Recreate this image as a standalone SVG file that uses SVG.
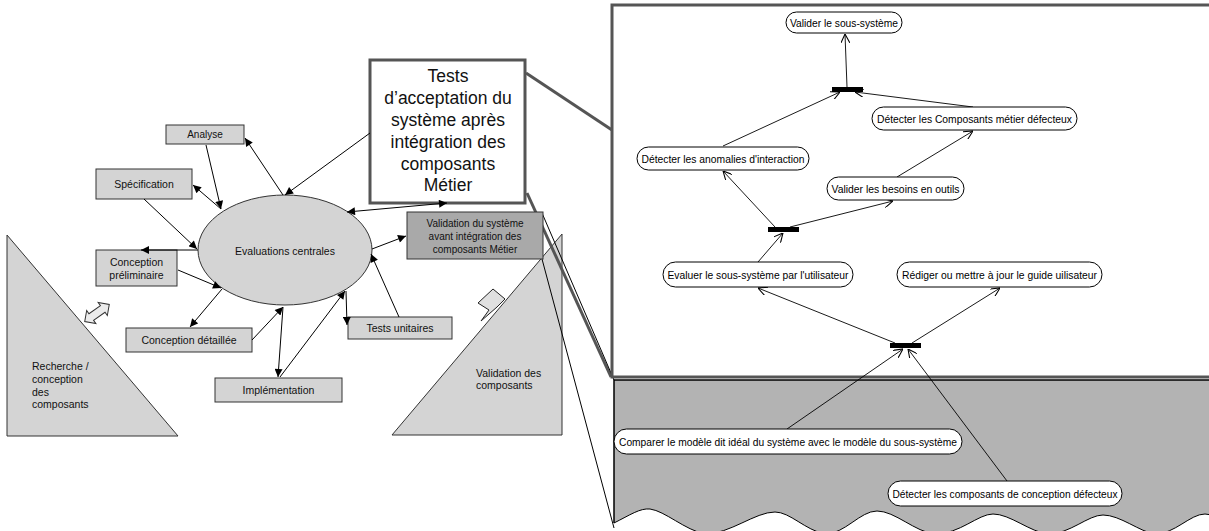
<svg xmlns="http://www.w3.org/2000/svg" width="1209" height="531" viewBox="0 0 1209 531">
<defs>
<marker id="fa" viewBox="0 0 10 10" refX="10" refY="5" markerWidth="9" markerHeight="8" markerUnits="userSpaceOnUse" orient="auto-start-reverse"><path d="M0,0 L10,5 L0,10 Z" fill="#000"/></marker>
<marker id="oa" viewBox="0 0 10 10" refX="10" refY="5" markerWidth="9" markerHeight="9" markerUnits="userSpaceOnUse" orient="auto"><path d="M0,0 L10,5 L0,10" fill="none" stroke="#000" stroke-width="1.2"/></marker>
</defs>
<style>
.t{font-family:"Liberation Sans",Arial,sans-serif;fill:#111}
.m{text-anchor:middle}
.s10{font-size:10.5px}
.p{font-size:11px;text-anchor:middle;font-family:"Liberation Sans",Arial,sans-serif;fill:#000}
.box{fill:#d4d4d4;stroke:#333;stroke-width:1}
.pill{fill:#fff;stroke:#000;stroke-width:1}
.c{stroke:#000;stroke-width:1;fill:none;marker-end:url(#fa)}
.cc{stroke:#000;stroke-width:1;fill:none;marker-end:url(#fa);marker-start:url(#fa)}
.a{stroke:#000;stroke-width:0.9;fill:none;marker-end:url(#oa)}
.bar{fill:#000}
</style>
<rect x="0" y="0" width="1209" height="531" fill="#fff"/>

<!-- Left side -->
<g id="n-recherche">
<polygon points="7,235 7,436 178,436" class="box"/>
<text class="t s10" x="32" y="370">Recherche /</text>
<text class="t s10" x="32" y="383">conception</text>
<text class="t s10" x="32" y="395.5">des</text>
<text class="t s10" x="32" y="408">composants</text>
</g>
<g id="n-double-fleche">
<path d="M-15,0 L-7,-8 L-7,-4 L7,-4 L7,-8 L15,0 L7,8 L7,4 L-7,4 L-7,8 Z" transform="translate(97,313) rotate(-35)" fill="#ececec" stroke="#333" stroke-width="1"/>
</g>
<g id="n-fleche-validation">
<polygon points="478,303 493,289 505,299 497,307 481,321 489,310" fill="#e0e0e0" stroke="#222" stroke-width="1"/>
</g>
<g id="n-validation-composants">
<polygon points="392,435 562,435 562,234" class="box"/>
<text class="t s10" x="476" y="377">Validation des</text>
<text class="t s10" x="476" y="389">composants</text>
</g>

<!-- callout lines -->
<g id="callouts">
<line x1="526" y1="73" x2="612" y2="130" stroke="#555" stroke-width="3"/>
<line x1="527" y1="193" x2="611" y2="377" stroke="#555" stroke-width="3"/>
<line x1="542" y1="213" x2="614" y2="380" stroke="#000" stroke-width="1"/>
<line x1="542" y1="259" x2="614" y2="528" stroke="#000" stroke-width="1"/>
</g>

<g id="n-analyse"><rect x="166" y="125" width="78" height="19" class="box"/><text class="t m" font-size="10" x="205" y="138">Analyse</text></g>
<g id="n-specification"><rect x="96" y="169" width="96" height="30" class="box"/><text class="t m s10" x="144" y="188">Spécification</text></g>
<g id="n-conception-prelim"><rect x="96" y="250" width="81" height="36" class="box"/><text class="t m s10" x="136.5" y="266">Conception</text><text class="t m s10" x="136.5" y="279">préliminaire</text></g>
<g id="n-conception-detaillee"><rect x="126" y="328" width="126" height="24" class="box"/><text class="t m s10" x="189" y="344">Conception détaillée</text></g>
<g id="n-implementation"><rect x="215" y="378" width="127" height="24" class="box"/><text class="t m s10" x="278.5" y="394">Implémentation</text></g>
<g id="n-tests-unitaires"><rect x="348" y="317" width="104" height="22" class="box"/><text class="t m s10" x="400" y="332">Tests unitaires</text></g>
<g id="n-evaluations"><ellipse cx="285" cy="250" rx="87" ry="55" class="box"/><text class="t m s10" x="285" y="255">Evaluations centrales</text></g>
<g id="n-validation-systeme"><rect x="407" y="212" width="136" height="47" fill="#a9a9a9" stroke="#333" stroke-width="1"/>
<text class="t m" font-size="10" x="475" y="226.5">Validation du système</text>
<text class="t m" font-size="10" x="475" y="239.5">avant intégration des</text>
<text class="t m" font-size="10" x="475" y="252.5">composants Métier</text></g>
<g id="n-tests-acceptation"><rect x="370" y="60" width="155" height="143" fill="#fff" stroke="#555" stroke-width="3"/>
<text class="t m" font-size="17.5" x="448" y="82">Tests</text>
<text class="t m" font-size="17.5" x="448" y="104">d’acceptation du</text>
<text class="t m" font-size="17.5" x="448" y="126">système après</text>
<text class="t m" font-size="17.5" x="448" y="148">intégration des</text>
<text class="t m" font-size="17.5" x="448" y="170">composants</text>
<text class="t m" font-size="17.5" x="448" y="191">Métier</text></g>

<g id="connectors-left">
<line class="c" x1="206" y1="145" x2="221" y2="209"/>
<line class="c" x1="283" y1="195" x2="245" y2="138"/>
<line class="c" x1="221" y1="209" x2="193" y2="185"/>
<line class="c" x1="144" y1="199" x2="197" y2="249"/>
<line class="c" x1="198" y1="250" x2="141" y2="250"/>
<line class="c" x1="178" y1="270" x2="221" y2="288"/>
<line class="c" x1="222" y1="289" x2="190" y2="327"/>
<line class="c" x1="252" y1="340" x2="283" y2="307"/>
<line class="c" x1="283" y1="307" x2="278" y2="377"/>
<line class="c" x1="280" y1="377" x2="345" y2="291"/>
<line class="c" x1="346" y1="291" x2="347" y2="325"/>
<line class="c" x1="399" y1="317" x2="371" y2="254"/>
<line class="c" x1="372" y1="249" x2="406" y2="236"/>
<line class="cc" x1="347" y1="212" x2="447" y2="203"/>
<line class="c" x1="370" y1="133" x2="285" y2="195"/>
</g>

<!-- Right side -->
<g id="cadre-zoom"><rect x="612" y="5" width="600" height="372" fill="#fff" stroke="#555" stroke-width="3"/></g>
<g id="panneau-gris">
<path d="M614,380 H1212 V515 L1205,514 C1190,514 1175,534 1155,534 C1140,532 1120,515 1103,515 C1088,515 1070,534 1048,534 C1030,532 1010,514 993,514 C978,514 960,534 935,534 C915,532 895,511 877,511 C860,511 845,534 825,534 C805,530 790,512 775,512 C755,512 730,534 705,534 C685,530 665,511 650,509 C640,508 630,515 614,523 Z" fill="#b3b3b3"/>
<path d="M614,523 C630,515 640,508 650,509 C665,511 685,530 705,534 C730,534 755,512 775,512 C790,512 805,530 825,534 C845,534 860,511 877,511 C895,511 915,532 935,534 C960,534 978,514 993,514 C1010,514 1030,532 1048,534 C1070,534 1088,515 1103,515 C1120,515 1140,532 1155,534 C1175,534 1190,514 1205,514 L1212,515" fill="none" stroke="#000" stroke-width="1"/>
<path d="M614,523 V380 H1212" fill="none" stroke="#000" stroke-width="1.5"/>
</g>

<g id="connectors-activite">
<line class="a" x1="847" y1="87" x2="845" y2="34"/>
<line class="a" x1="723" y1="146" x2="840" y2="92"/>
<line class="a" x1="973" y1="107" x2="855" y2="92"/>
<line class="a" x1="897" y1="177" x2="973" y2="131"/>
<line class="a" x1="775" y1="227" x2="723" y2="171"/>
<line class="a" x1="790" y1="227" x2="893" y2="201"/>
<line class="a" x1="758" y1="262" x2="783" y2="233"/>
<line class="a" x1="895" y1="343" x2="758" y2="288"/>
<line class="a" x1="912" y1="343" x2="1000" y2="288"/>
<line class="a" x1="787" y1="429" x2="903" y2="349"/>
<line class="a" x1="1007" y1="481" x2="908" y2="349"/>
</g>

<g id="b-sync1"><rect x="832" y="87" width="31" height="5" class="bar"/></g>
<g id="b-sync2"><rect x="768" y="227" width="31" height="5" class="bar"/></g>
<g id="b-sync3"><rect x="890" y="343" width="31" height="5" class="bar"/></g>

<g id="a-valider-sous-systeme"><rect x="786" y="12" width="116" height="21" rx="10.5" class="pill"/><text class="p" x="844" y="26.5" textLength="108" lengthAdjust="spacingAndGlyphs">Valider le sous-système</text></g>
<g id="a-detecter-composants-metier"><rect x="872" y="107" width="205" height="23" rx="11.5" class="pill"/><text class="p" x="974.5" y="122.5" textLength="195" lengthAdjust="spacingAndGlyphs">Détecter les Composants métier défecteux</text></g>
<g id="a-detecter-anomalies"><rect x="637" y="147" width="172" height="23" rx="11.5" class="pill"/><text class="p" x="723" y="162.5" textLength="163" lengthAdjust="spacingAndGlyphs">Détecter les anomalies d'interaction</text></g>
<g id="a-valider-besoins"><rect x="827" y="177" width="137" height="23" rx="11.5" class="pill"/><text class="p" x="895.5" y="192.5" textLength="128" lengthAdjust="spacingAndGlyphs">Valider les besoins en outils</text></g>
<g id="a-evaluer"><rect x="663" y="262" width="190" height="25" rx="12.5" class="pill"/><text class="p" x="758" y="278.5" textLength="181" lengthAdjust="spacingAndGlyphs">Evaluer le sous-système par l'utilisateur</text></g>
<g id="a-rediger"><rect x="897" y="262" width="205" height="25" rx="12.5" class="pill"/><text class="p" x="999.5" y="278.5" textLength="195" lengthAdjust="spacingAndGlyphs">Rédiger ou mettre à jour le guide uilisateur</text></g>
<g id="a-comparer"><rect x="614" y="429" width="348" height="25" rx="12.5" class="pill"/><text class="p" x="788" y="445.5" textLength="338" lengthAdjust="spacingAndGlyphs">Comparer le modèle dit idéal du système avec le modèle du sous-système</text></g>
<g id="a-detecter-conception"><rect x="888" y="481" width="234" height="25" rx="12.5" class="pill"/><text class="p" x="1005" y="497.5" textLength="225" lengthAdjust="spacingAndGlyphs">Détecter les composants de conception défecteux</text></g>
</svg>
